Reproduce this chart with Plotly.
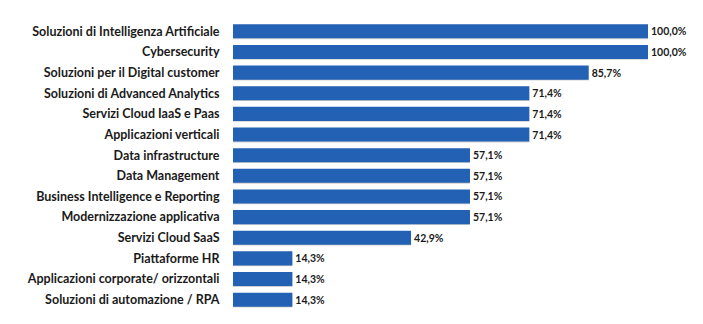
import plotly.graph_objects as go

categories = [
    "Soluzioni di Intelligenza Artificiale",
    "Cybersecurity",
    "Soluzioni per il Digital customer",
    "Soluzioni di Advanced Analytics",
    "Servizi Cloud IaaS e Paas",
    "Applicazioni verticali",
    "Data infrastructure",
    "Data Management",
    "Business Intelligence e Reporting",
    "Modernizzazione applicativa",
    "Servizi Cloud SaaS",
    "Piattaforme HR",
    "Applicazioni corporate/ orizzontali",
    "Soluzioni di automazione / RPA",
]
values = [100.0, 100.0, 85.7, 71.4, 71.4, 71.4, 57.1, 57.1, 57.1, 57.1, 42.9, 14.3, 14.3, 14.3]
labels = [f"{v:.1f}%".replace(".", ",") for v in values]

bar_color = "#2361B5"
font_family = "Lato, Open Sans, sans-serif"

fig = go.Figure()

# soft drop shadow behind each bar
fig.add_trace(go.Bar(
    x=values, y=categories, orientation="h",
    marker=dict(color="rgba(120,120,120,0.35)", line=dict(width=0)),
    width=0.68, offset=-0.30,
    hoverinfo="skip", showlegend=False,
))

fig.add_trace(go.Bar(
    x=values, y=categories, orientation="h",
    marker=dict(color=bar_color, line=dict(width=0)),
    width=0.68, offset=-0.34,
    text=labels, textposition="outside",
    textfont=dict(family=font_family, size=10.5, color="#1a1a1a", weight="bold"),
    cliponaxis=False, showlegend=False,
))

fig.update_layout(
    width=703, height=324,
    margin=dict(l=233, r=55, t=21, b=14),
    paper_bgcolor="white", plot_bgcolor="white",
    barmode="overlay",
    font=dict(family=font_family, color="#1a1a1a"),
    xaxis=dict(range=[0, 100], visible=False, showgrid=False, zeroline=False),
    yaxis=dict(
        autorange="reversed",
        showgrid=False, zeroline=False, showline=False,
        ticks="outside", ticklen=10, tickcolor="rgba(0,0,0,0)",
        tickfont=dict(family=font_family, size=12.5, color="#1a1a1a", weight="bold"),
    ),
)

fig.write_html("out.html")
